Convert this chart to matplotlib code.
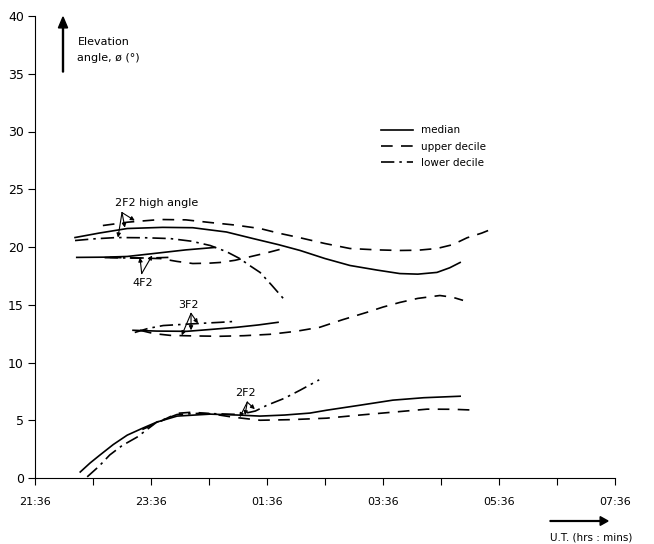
import matplotlib
matplotlib.use('Agg')
import matplotlib.pyplot as plt

plt.rcParams['font.family'] = ['DejaVu Sans']

# time in hours after 21:36 UT, elevation angle in degrees
# 2F2 high angle
hi_med_t = [0.69, 1.1, 1.59, 2.2, 2.72, 3.3, 3.76, 4.2, 4.57, 5.0, 5.43, 5.9, 6.29, 6.6, 6.93, 7.15, 7.33]
hi_med_e = [20.82, 21.2, 21.6, 21.7, 21.67, 21.3, 20.73, 20.2, 19.7, 19.0, 18.4, 18.0, 17.7, 17.65, 17.8, 18.2, 18.66]
hi_up_t = [1.17, 1.6, 2.16, 2.6, 3.02, 3.45, 3.88, 4.2, 4.57, 5.0, 5.43, 5.9, 6.29, 6.6, 6.93, 7.2, 7.45, 7.7, 7.9]
hi_up_e = [21.86, 22.15, 22.38, 22.35, 22.12, 21.9, 21.6, 21.2, 20.8, 20.3, 19.87, 19.75, 19.7, 19.72, 19.87, 20.2, 20.8, 21.2, 21.6]
hi_lo_t = [0.69, 1.0, 1.41, 1.9, 2.33, 2.7, 3.02, 3.3, 3.53, 3.7, 3.88, 4.08, 4.28]
hi_lo_e = [20.56, 20.7, 20.82, 20.8, 20.73, 20.5, 20.13, 19.6, 19.0, 18.4, 17.8, 16.7, 15.55]

# 4F2
f4_med_t = [0.72, 1.2, 1.59, 2.16, 2.6, 3.1]
f4_med_e = [19.1, 19.12, 19.18, 19.5, 19.75, 19.96]
f4_up_t = [1.29, 1.7, 2.16, 2.45, 2.72, 3.0, 3.19, 3.45, 3.66, 4.0, 4.28]
f4_up_e = [19.1, 19.05, 19.0, 18.75, 18.57, 18.6, 18.66, 18.85, 19.1, 19.5, 19.87]
f4_lo_t = [1.2, 1.6, 2.0, 2.3]
f4_lo_e = [19.08, 19.05, 19.05, 19.1]

# 3F2
f3_med_t = [1.69, 2.1, 2.62, 3.0, 3.48, 3.85, 4.19]
f3_med_e = [12.79, 12.72, 12.7, 12.85, 13.05, 13.25, 13.48]
f3_up_t = [1.81, 2.05, 2.33, 2.75, 3.19, 3.6, 4.05, 4.5, 4.91, 5.3, 5.72, 6.0, 6.29, 6.6, 6.98, 7.2, 7.38]
f3_up_e = [12.79, 12.5, 12.35, 12.3, 12.27, 12.32, 12.44, 12.7, 13.05, 13.7, 14.34, 14.8, 15.2, 15.55, 15.8, 15.65, 15.38]
f3_lo_t = [1.72, 1.95, 2.21, 2.55, 2.9, 3.2, 3.45]
f3_lo_e = [12.6, 12.95, 13.2, 13.3, 13.4, 13.48, 13.56]

# 2F2
f2_med_t = [0.78, 0.95, 1.12, 1.35, 1.59, 1.85, 2.10, 2.45, 3.02, 3.5, 3.88, 4.3, 4.74, 5.03, 5.6, 6.17, 6.7, 7.33]
f2_med_e = [0.52, 1.3, 1.99, 2.9, 3.71, 4.3, 4.84, 5.36, 5.53, 5.45, 5.36, 5.45, 5.62, 5.87, 6.3, 6.74, 6.95, 7.08]
f2_up_t = [1.85, 2.10, 2.45, 2.72, 3.05, 3.41, 3.88, 4.4, 5.03, 5.6, 6.17, 6.76, 7.2, 7.62]
f2_up_e = [4.2, 4.75, 5.6, 5.7, 5.55, 5.27, 5.0, 5.05, 5.18, 5.45, 5.7, 5.96, 5.95, 5.87]
f2_lo_t = [0.9, 1.1, 1.29, 1.5, 1.76, 2.10, 2.45, 2.84, 3.2, 3.53, 3.8, 4.0, 4.3, 4.57, 4.9]
f2_lo_e = [0.1, 1.0, 2.0, 2.8, 3.54, 4.84, 5.5, 5.6, 5.55, 5.5, 5.8, 6.3, 6.9, 7.6, 8.5]

tick_hours = list(range(11))
tick_labels = ['21:36', '', '23:36', '', '01:36', '', '03:36', '', '05:36', '', '07:36']

fig = plt.figure(figsize=(6.54, 5.44), dpi=100)
ax = fig.add_axes([35 / 654, 1 - 478 / 544, 580 / 654, 462 / 544])

lw = 1.2
dash = (0, (7, 5))
dashdot = (0, (8, 3, 1.5, 3))

ax.plot(hi_med_t, hi_med_e, 'k-', lw=lw, label='median')
ax.plot(hi_up_t, hi_up_e, color='k', ls=dash, lw=lw, label='upper decile')
ax.plot(hi_lo_t, hi_lo_e, color='k', ls=dashdot, lw=lw, label='lower decile')

for t, e, st in [(f4_med_t, f4_med_e, '-'), (f4_up_t, f4_up_e, dash), (f4_lo_t, f4_lo_e, dashdot),
                 (f3_med_t, f3_med_e, '-'), (f3_up_t, f3_up_e, dash), (f3_lo_t, f3_lo_e, dashdot),
                 (f2_med_t, f2_med_e, '-'), (f2_up_t, f2_up_e, dash), (f2_lo_t, f2_lo_e, dashdot)]:
    ax.plot(t, e, color='k', ls=st, lw=lw)

# mode annotations
def mode_label(text, txy, apex, targets, ha='center'):
    ax.text(txy[0], txy[1], text, ha=ha, va='center', fontsize=8)
    for tg in targets:
        ax.annotate('', xy=tg, xytext=apex,
                    arrowprops=dict(arrowstyle='-|>', color='k', lw=0.8,
                                    mutation_scale=6, shrinkA=0, shrinkB=0))

mode_label('2F2 high angle', (1.38, 23.85), (1.5, 22.98),
           [(1.43, 20.82), (1.55, 21.68), (1.72, 22.29)], ha='left')
mode_label('4F2', (1.86, 16.9), (1.84, 17.7), [(1.81, 19.09), (2.02, 19.27)])
mode_label('3F2', (2.64, 15.0), (2.69, 14.25), [(2.53, 12.35), (2.69, 12.79), (2.81, 13.39)])
mode_label('2F2', (3.62, 7.4), (3.66, 6.57), [(3.53, 5.27), (3.62, 5.44), (3.79, 5.96)])

ax.set_xlim(0, 10)
ax.set_ylim(0, 40)
ax.spines['top'].set_visible(False)
ax.spines['right'].set_visible(False)
ax.set_xticks(tick_hours)
ax.set_xticklabels(tick_labels)
ax.set_yticks(range(0, 41, 5))
ax.tick_params(axis='x', direction='out', length=5, pad=9, labelsize=8)
ax.tick_params(axis='y', direction='out', length=5, pad=3, labelsize=9)

ax.legend(loc='upper left', bbox_to_anchor=(372 / 654, 1 - 116 / 544),
          bbox_transform=fig.transFigure, frameon=False, fontsize=7.5,
          handlelength=3.0, labelspacing=0.6, handletextpad=0.8)

# axis titles with arrows
fig.patches.append(matplotlib.patches.FancyArrow(
    63 / 654, 1 - 72 / 544, 0, 55 / 544, width=0.0015, head_width=0.014,
    head_length=0.02, length_includes_head=True, color='k', transform=fig.transFigure))
fig.text(78 / 654, 1 - 42 / 544, 'Elevation', fontsize=8, va='center')
fig.text(77 / 654, 1 - 58 / 544, 'angle, \u00f8 (\u00b0)', fontsize=8, va='center')

fig.patches.append(matplotlib.patches.FancyArrow(
    550 / 654, 1 - 521 / 544, 58 / 654, 0, width=0.0015, head_width=0.016,
    head_length=0.012, length_includes_head=True, color='k', transform=fig.transFigure))
fig.text(550 / 654, 1 - 538 / 544, 'U.T. (hrs : mins)', fontsize=7.5, va='center')

plt.savefig('out.png', dpi=100)
